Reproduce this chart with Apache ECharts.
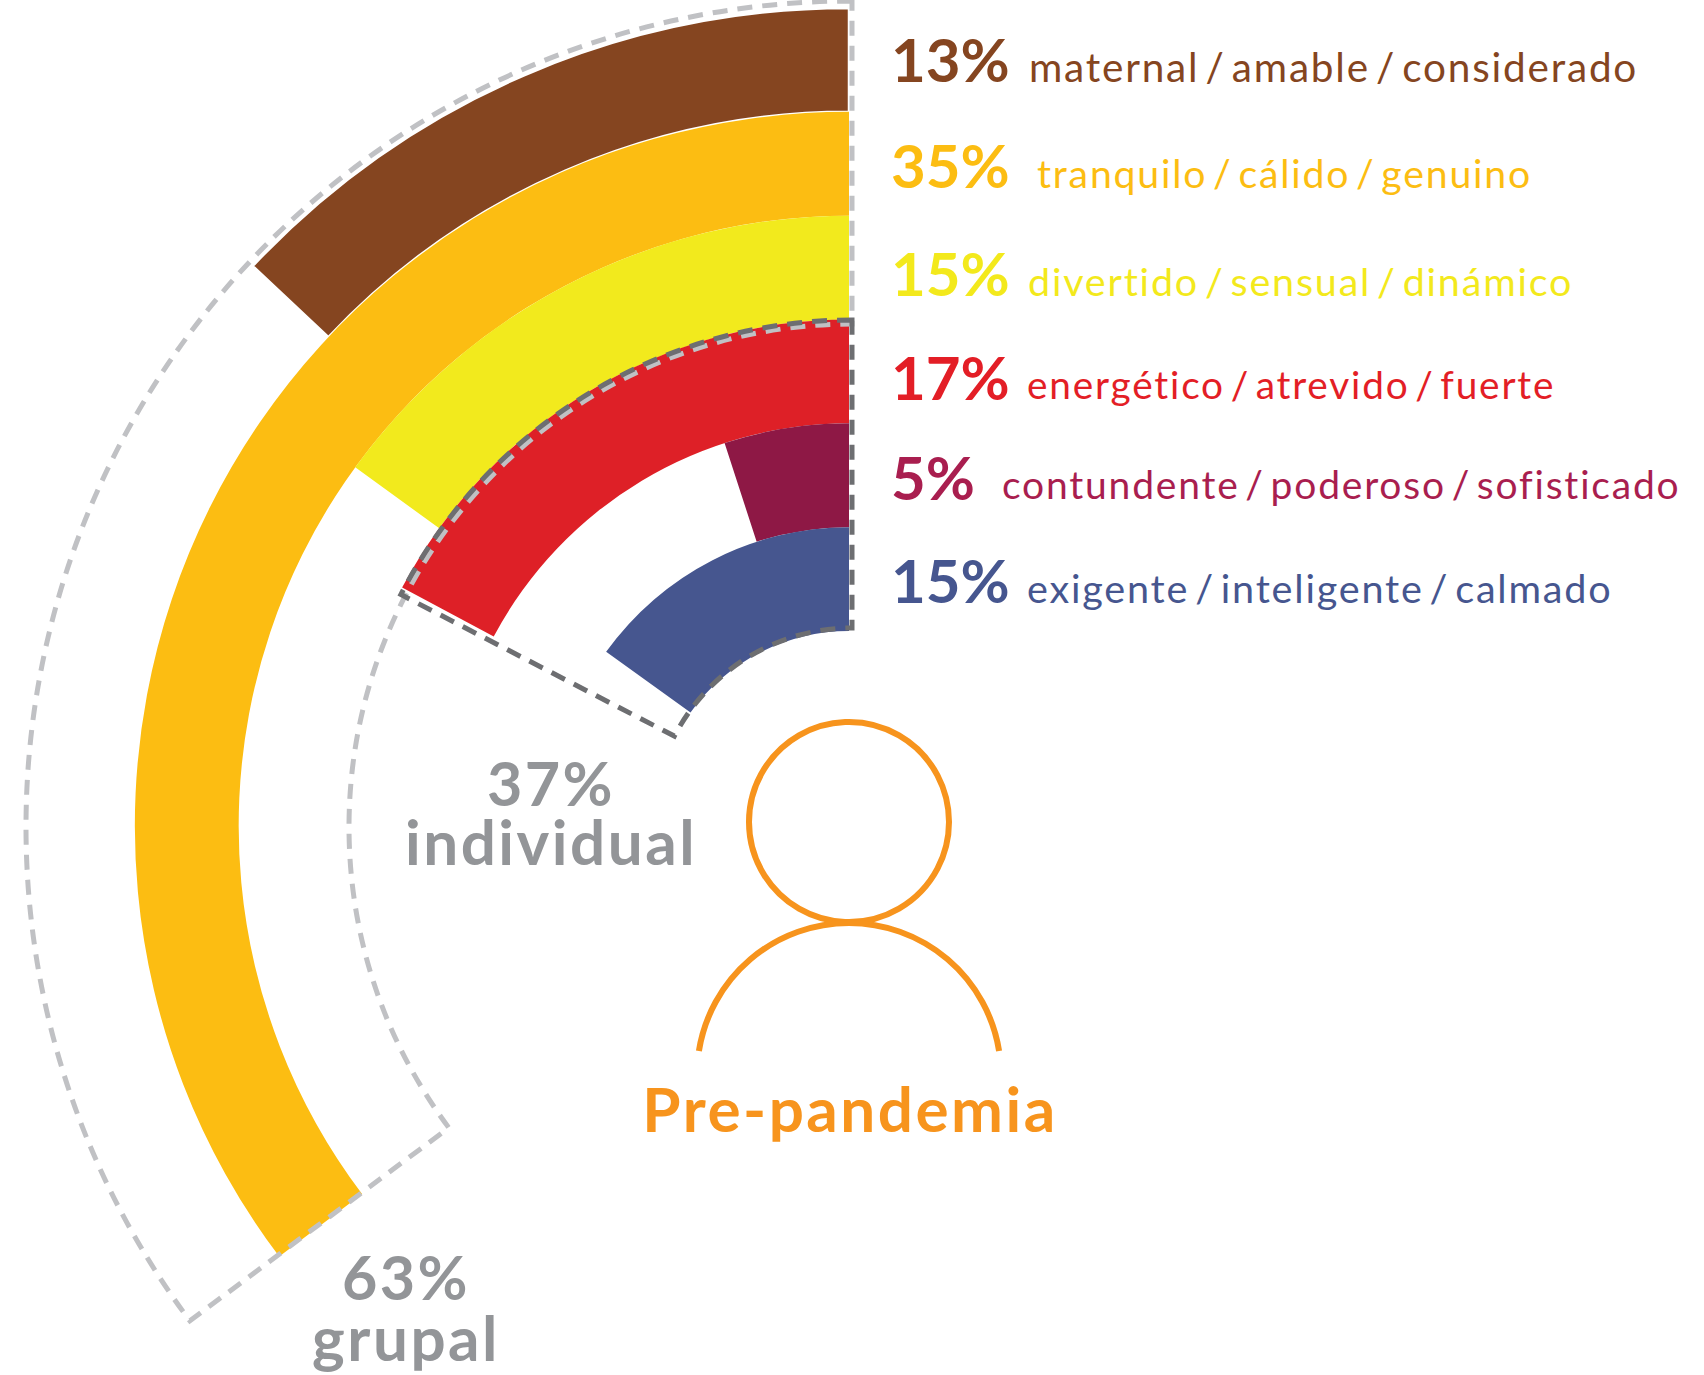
<!DOCTYPE html>
<html><head><meta charset="utf-8">
<style>
html,body{margin:0;padding:0;background:#fff}
#c{width:1704px;height:1375px}
text:not([style*="bold"]){letter-spacing:1.8px;word-spacing:-6px}
text[style*="62px"]{letter-spacing:2.5px}
text[style*="61px"]{letter-spacing:2.4px}
</style>
<script src="https://cdn.jsdelivr.net/npm/echarts@6/dist/echarts.min.js"></script>
</head><body><div id="c"></div>
<script>
const categories = ["maternal / amable / considerado","tranquilo / cálido / genuino","divertido / sensual / dinámico","energético / atrevido / fuerte","contundente / poderoso / sofisticado","exigente / inteligente / calmado"];
const percentLabels = ["13%","35%","15%","17%","5%","15%"];
const drawnValues = [13, 35.3, 15, 17.2, 5, 15.1];
const barColors = ["#854520","#fcbd12","#f2ea1d","#de2027","#8e1845","#46568f"];
const textColors = ["#854520","#fcbd12","#f3e91c","#e31e26","#a91e4f","#46568f"];
const grupalOutline = [35.2];
const individualOutline = [17.4];

const cx = 849, cy = 826;
const rowY = [81,187,295,399,499,602];
const labelX = [1029,1037,1028,1027,1002,1027];
const labelSize = [40.5,39.2,39.5,38.8,39,39.6];
const grey = "#939598", orange = "#f7941d";

const txt = (text,x,baseline,size,weight,fill,align,mid) => ({
  type:'text', x, y:baseline-(mid||size*0.36), z:20,
  style:{text,fill,font:`${weight} ${size}px Lato`,align:align||'left',verticalAlign:'middle'}
});
const graphics = [];
categories.forEach((c,i)=>{
  graphics.push(txt(percentLabels[i],891,rowY[i],60,'bold',textColors[i]));
  graphics.push(txt(c,labelX[i],rowY[i]-1,labelSize[i],'normal',textColors[i],'left',14));
});
graphics.push(txt("37%",551,804,61,'bold',grey,'center'));
graphics.push(txt("individual",551,863,62,'bold',grey,'center'));
graphics.push(txt("63%",406,1298,61,'bold',grey,'center'));
graphics.push(txt("grupal",406,1359,62,'bold',grey,'center'));
graphics.push(txt("Pre-pandemia",850,1130,62,'bold',orange,'center'));
graphics.push({type:'circle',z:20,shape:{cx:849,cy:822,r:100},style:{fill:'none',stroke:orange,lineWidth:6}});
graphics.push({type:'arc',z:20,shape:{cx:849,cy:1075,r:152,startAngle:Math.PI+0.159,endAngle:2*Math.PI-0.159,clockwise:true},style:{fill:'none',stroke:orange,lineWidth:6}});

const outlineSeries = (idx,vals,color,z) => ({
  type:'bar',coordinateSystem:'polar',polarIndex:idx,angleAxisIndex:idx,radiusAxisIndex:idx,z,silent:true,
  data:vals,barWidth:'100%',
  itemStyle:{color:'rgba(0,0,0,0)',borderColor:color,borderWidth:5,borderType:[15,10]}
});
const chart = echarts.init(document.getElementById('c'),null,{renderer:'svg'});
chart.setOption({
  animation:false,backgroundColor:'#fff',
  polar:[
    {center:[cx,cy],radius:[195,818]},
    {center:[852,827],radius:[503,826]},
    {center:[852,828],radius:[200,508]}
  ],
  angleAxis:[0,1,2].map(i=>({polarIndex:i,type:'value',min:0,max:100,startAngle:90,clockwise:false,show:false})),
  radiusAxis:[
    {polarIndex:0,type:'category',data:categories,inverse:true,show:false},
    {polarIndex:1,type:'category',data:['grupal'],show:false},
    {polarIndex:2,type:'category',data:['individual'],show:false}
  ],
  series:[
    {type:'bar',coordinateSystem:'polar',polarIndex:0,angleAxisIndex:0,radiusAxisIndex:0,barCategoryGap:'0%',barWidth:'100%',z:2,
     data:drawnValues.map((v,i)=>({value:v,itemStyle:{color:barColors[i],borderColor:i===0?'#fff':barColors[i],borderWidth:i===0?2.5:0}}))},
    outlineSeries(1,grupalOutline,'#c0c1c4',5),
    outlineSeries(2,individualOutline,'#6d6e71',6)
  ],
  graphic:graphics
});
</script></body></html>
